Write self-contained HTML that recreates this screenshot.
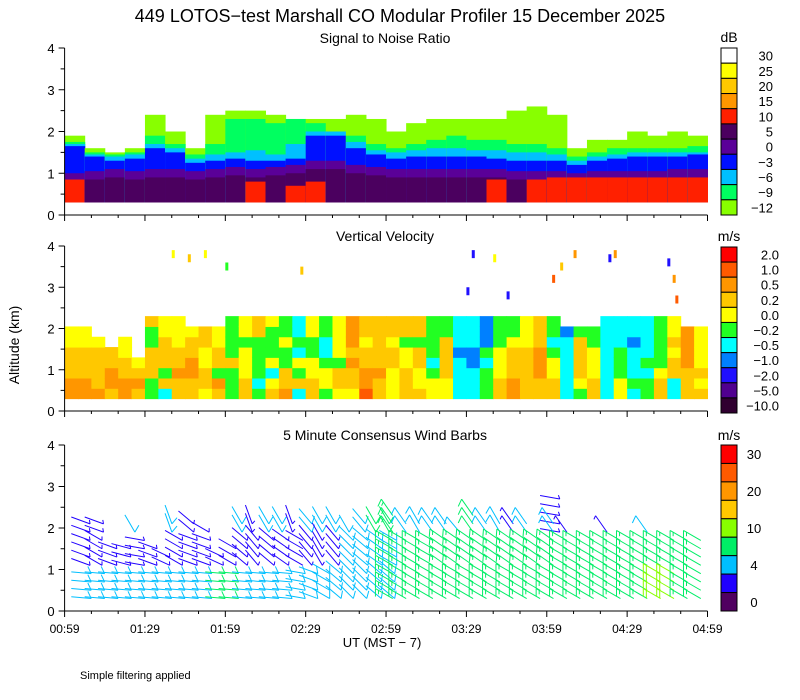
<!DOCTYPE html>
<html><head><meta charset="utf-8"><style>
html,body{margin:0;padding:0;background:#fff;}
svg{display:block;font-family:"Liberation Sans",sans-serif;}
text{fill:#000;}
</style></head><body>
<svg id="c" width="800" height="700" viewBox="0 0 800 700" xmlns="http://www.w3.org/2000/svg">
<text x="400" y="22" font-size="18" text-anchor="middle">449 LOTOS−test Marshall CO Modular Profiler 15 December 2025</text>
<text x="385" y="43" font-size="14" text-anchor="middle">Signal to Noise Ratio</text>
<text x="385" y="241" font-size="14" text-anchor="middle">Vertical Velocity</text>
<text x="385" y="440" font-size="14" text-anchor="middle">5 Minute Consensus Wind Barbs</text>
<text x="729" y="42" font-size="14" text-anchor="middle">dB</text>
<text x="729" y="241" font-size="14" text-anchor="middle">m/s</text>
<text x="729" y="440" font-size="14" text-anchor="middle">m/s</text>
<text x="0" y="0" font-size="14" text-anchor="middle" transform="translate(19,345) rotate(-90)">Altitude (km)</text>
<text x="382" y="647" font-size="13" text-anchor="middle">UT  (MST − 7)</text>
<text x="80" y="679" font-size="11">Simple filtering applied</text>
<g id="g"></g>
</svg>
<script>
// ---------- data ----------
const timeTicks=["00:59","01:29","01:59","02:29","02:59","03:29","03:59","04:29","04:59"];
const altTicks=[0,1,2,3,4];
const snrLabels=["30","25","20","15","10","5","0","−3","−6","−9","−12"];
const vvLabels=["2.0","1.0","0.5","0.2","0.0","−0.2","−0.5","−1.0","−2.0","−5.0","−10.0"];
const windLabels=["30","","20","","10","","4","","0"];
// SNR boundaries (km) per 7.5-min column
const snrLg=[1.9,1.6,1.5,1.6,2.4,2.0,1.6,2.4,2.5,2.5,2.4,2.3,2.3,2.3,2.4,2.3,2.0,2.2,2.3,2.3,2.3,2.3,2.5,2.6,2.4,1.6,1.8,1.8,2.0,1.9,2.0,1.9];
const snrGreen=[1.75,1.5,1.45,1.5,1.9,1.7,1.45,1.7,2.3,2.3,2.2,2.3,2.2,1.9,1.9,1.7,1.6,1.7,1.8,1.9,1.8,1.8,1.7,1.7,1.6,1.4,1.5,1.6,1.6,1.6,1.6,1.65];
const snrCyan=[1.7,1.45,1.4,1.45,1.7,1.6,1.35,1.45,1.5,1.55,1.45,1.7,2.0,2.0,1.75,1.55,1.5,1.55,1.6,1.6,1.55,1.55,1.5,1.5,1.45,1.3,1.4,1.45,1.5,1.5,1.5,1.5];
const snrBlue=[1.65,1.4,1.3,1.35,1.6,1.5,1.25,1.3,1.35,1.3,1.3,1.35,1.9,1.9,1.6,1.45,1.35,1.4,1.4,1.4,1.4,1.35,1.3,1.3,1.3,1.2,1.3,1.35,1.4,1.4,1.4,1.45];
const snrPurple=[1.0,1.05,1.1,1.05,1.1,1.1,1.05,1.1,1.15,1.1,1.15,1.2,1.3,1.3,1.2,1.15,1.1,1.1,1.1,1.1,1.1,1.1,1.05,1.05,1.05,1.0,1.05,1.05,1.05,1.05,1.1,1.1];
const snrRed=[0.85,0,0,0,0,0,0,0,0,0.8,0,0.7,0.8,0,0,0,0,0,0,0,0,0.85,0,0.85,0.9,0.9,0.9,0.9,0.9,0.9,0.9,0.9];
// Vertical velocity: 48 five-minute columns, rows of 0.25 km from 0.3 km; digit = colour class (0 = -10 .. A = 2.0)
const vvCols=["8877766..","8877766..","877776...","78877....","887766...","7876.....","55777557.","47577766.","77877666.","7788776..","6776677..","7857766..","55575555.","77666566.","54555577.","76465556.","87755655.","47564544.","77665566.","56654455.","67756666.","67787888.","98877677.","77877777.","66677677.","77766577.","76677577.","66545555.","66777755.","44443444.","44433444.","55545333.","77666555.","88777655.","77777666.","77888777.","77665455.","4444443..","5677775..","7766655..","44444444.","66555444.","45444344.","55454444.","77655555.","44776766.","7778888..","7676666.."];
const vvSpotT=[40,46,52,60,88,150,152,160,165,182,185,190,203,205,225,227,228];
const vvSpotA=[3.9,3.8,3.9,3.6,3.5,3.0,3.9,3.8,2.9,3.3,3.6,3.9,3.8,3.9,3.7,3.3,2.8];
const vvSpotC=[6,7,6,5,7,2,2,6,2,9,7,8,2,8,2,8,9];
// Wind: 48 five-minute columns (windTop = highest altitude reached by barbs)
const windTop=[2.3,2.3,1.7,1.7,2.5,1.7,1.7,2.7,2.5,2.2,1.7,1.9,2.6,2.6,2.6,2.6,2.6,2.6,2.6,2.6,2.5,2.6,2.6,2.6,2.7,2.5,2.6,2.5,2.5,2.4,2.8,2.6,2.6,2.5,2.6,2.8,2.6,2.4,2.2,2.2,2.3,2.2,2.2,2.3,2.1,2.1,2.0,2.0];
const dirLow=[95,95,95,95,95,95,95,95,95,95,95,95,95,95,95,95,100,110,120,130,135,135,130,130,300,300,300,300,300,300,300,300,300,300,300,300,300,300,300,300,300,300,300,300,300,300,300,300];
const spdLow=[5,5,5,5,5,5,5,6,6,6,7,7,6,6,6,6,6,6,6,6,6,6,6,6,8,8,8,8,8,8,8,8,8,8,8,8,8,8,8,8,8,8,8,8,10,10,8,8];
const dirMid=[110,120,110,105,100,110,115,120,110,110,115,120,130,140,130,125,120,140,150,140,135,130,125,120,300,300,300,300,305,305,305,305,305,305,305,305,305,300,300,300,300,300,300,300,300,300,300,300];
const spdMid=[3,3,3,3,3,3,3,3,3,3,3,3,3,3,3,3,2,3,3,3,5,5,5,5,8,8,8,8,8,8,8,8,8,8,8,8,8,8,8,8,8,8,8,8,8,8,8,8];
const dirHigh=[110,110,110,105,150,110,110,160,130,120,110,110,150,160,150,150,160,140,150,150,150,140,150,150,325,325,330,325,325,320,325,325,330,325,325,100,325,325,325,325,325,320,325,325,325,325,325,325];
const spdHigh=[3,3,3,3,5,3,3,5,3,3,3,3,5,3,5,5,3,5,5,5,5,5,7,7,8,5,5,5,5,5,7,5,5,3,5,3,5,3,5,5,3,5,5,5,5,5,3,5];

// ---------- geometry ----------
const NS="http://www.w3.org/2000/svg";
const g=document.getElementById('g');
const X0=64.6,X1=707.5;
const panels=[[48,215],[246,411],[445,611]];
function xT(t){return X0+t/240*(X1-X0);}
function yA(p,a){const[t,b]=panels[p];return b-a/4*(b-t);}
function el(tag,at,parent){const e=document.createElementNS(NS,tag);for(const k in at)e.setAttribute(k,at[k]);(parent||g).appendChild(e);return e;}
const snrColors=["#ffffff","#ffff00","#ffc800","#ff9600","#ff2000","#4b005f","#5a0098","#0010ff","#00c0ff","#00ff60","#88ff00"];
const vvColors=["#300030","#500090","#2010ff","#0080ff","#00ffff","#22ff22","#ffff00","#ffc800","#ff9600","#ff5a00","#ff0000"];
const windColors=["#ff0000","#ff5a00","#ff9600","#ffc800","#88ff00","#00ee66","#00bfff","#2000ff","#500060"];

// ---------- SNR ----------
const snrG=el('g',{});


const nS=snrLg.length;
for(let i=0;i<nS;i++){
  const x=xT(i*240/nS), w=xT((i+1)*240/nS)-x+0.5;
  const layers=[[snrLg[i],snrColors[10]],[snrGreen[i],snrColors[9]],[snrCyan[i],snrColors[8]],[snrBlue[i],snrColors[7]],[snrPurple[i],snrColors[6]],[snrPurple[i]-0.2,snrColors[5]],[snrRed[i],snrColors[4]]];
  for(const[top,col] of layers){
    if(top<=0.3)continue;
    const r=el('rect',{x:x,y:yA(0,top),width:w,height:yA(0,0.3)-yA(0,top),fill:col},snrG);
    
    
  }
}
// ---------- VV ----------
const vvG=el('g',{});


const nV=vvCols.length;
for(let i=0;i<nV;i++){
  const x=xT(i*240/nV), w=xT((i+1)*240/nV)-x+0.5;
  for(let j=0;j<vvCols[i].length;j++){
    const ch=vvCols[i][j]; if(ch==='.')continue;
    const c=parseInt(ch,16);
    const a0=0.3+j*0.25,a1=a0+0.25;
    const r=el('rect',{x:x,y:yA(1,a1),width:w,height:yA(1,a0)-yA(1,a1)+0.5,fill:vvColors[c]},vvG);
    
    
  }
}
for(let k=0;k<vvSpotT.length;k++){
  const r=el('rect',{x:xT(vvSpotT[k]),y:yA(1,vvSpotA[k]),width:3,height:8,fill:vvColors[vvSpotC[k]]},vvG);
  
  
}
// ---------- Wind barbs ----------
function windColor(s){if(s<2)return windColors[8];if(s<4)return windColors[7];if(s<7)return windColors[6];if(s<10)return windColors[5];if(s<15)return windColors[4];if(s<20)return windColors[3];if(s<25)return windColors[2];if(s<30)return windColors[1];return windColors[0];}
const wG=el('g',{});


const nW=windTop.length;
const L=20,pxPerKm=(panels[2][1]-panels[2][0])/4;
for(let i=0;i<nW;i++){
  const t=(i+0.5)*240/nW;
  for(let a=0.3;a<=windTop[i];a+=0.2){
    let d,s;
    if(a<1.0){d=dirLow[i];s=spdLow[i];}else if(a<1.8){d=dirMid[i];s=spdMid[i];}else{d=dirHigh[i];s=spdHigh[i];}
    const rad=d*Math.PI/180;
    const dy=Math.cos(rad)*L/pxPerKm; // km change along shaft
    const sa=a+Math.max(0,-dy);        // keep whole barb above 0.3 km
    if(sa+Math.max(0,dy)>windTop[i])continue;
    const x=xT(t),y=yA(2,sa);
    const ex=x+Math.sin(rad)*L,ey=y-Math.cos(rad)*L;
    const col=windColor(s);
    const bg=el('g',{stroke:col,'stroke-width':1,fill:'none'},wG);
    
    
    el('line',{x1:x,y1:y,x2:ex,y2:ey},bg);
    let rem=s,k=0;const fr=(d-120)*Math.PI/180;
    while(rem>=2.5&&k<3){
      const full=rem>=5,fl=full?8:4;
      const px=ex-Math.sin(rad)*k*3.5,py=ey+Math.cos(rad)*k*3.5;
      el('line',{x1:px,y1:py,x2:px+Math.sin(fr)*fl,y2:py-Math.cos(fr)*fl},bg);
      rem-=full?5:2.5;k++;
    }
  }
}
// ---------- axes ----------
for(let p=0;p<3;p++){
  const[top,bot]=panels[p];
  const ax=el('g',{stroke:'#000','stroke-width':1});
  
  
  el('line',{x1:X0,y1:top,x2:X0,y2:bot},ax);
  el('line',{x1:X0,y1:bot,x2:X1,y2:bot},ax);
  for(let a=0;a<=4;a+=0.5){const y=yA(p,a);el('line',{x1:X0-(a%1===0?6:4),y1:y,x2:X0,y2:y},ax);}
  for(let m=0;m<=240;m+=10){const x=xT(m);el('line',{x1:x,y1:bot,x2:x,y2:bot+(m%30===0?6:3)},ax);}
  altTicks.forEach(v=>{
    const tx=el('text',{x:X0-10,y:yA(p,v)+5,'font-size':13,'text-anchor':'end',stroke:'none'});
    
    
    tx.textContent=v;
  });
}
timeTicks.forEach((lb,i)=>{
  const tx=el('text',{x:xT(i*30),y:633,'font-size':12,'text-anchor':'middle'});
  
  
  tx.textContent=lb;
});
// ---------- colorbars ----------
function colorbar(name,top,bot,cols,labels,lx,anchor){
  const cb=el('g',{});
  
  
  const n=cols.length,h=(bot-top)/n;
  cols.forEach((c,i)=>{
    const r=el('rect',{x:721,y:top+i*h,width:16,height:h,fill:c,stroke:'#000','stroke-width':1},cb);
    
    
    if(labels[i]){
      const tx=el('text',{x:lx,y:top+i*h+h/2+5,'font-size':13,'text-anchor':anchor},cb);
      
      
      tx.textContent=labels[i];
    }
  });
}
colorbar('snr-colorbar',48,215,snrColors,snrLabels,773,'end');
colorbar('vv-colorbar',247,413,vvColors.slice().reverse(),vvLabels,779,'end');
colorbar('wind-colorbar',445,611,windColors,windLabels,754,'middle');
</script>
</body></html>
